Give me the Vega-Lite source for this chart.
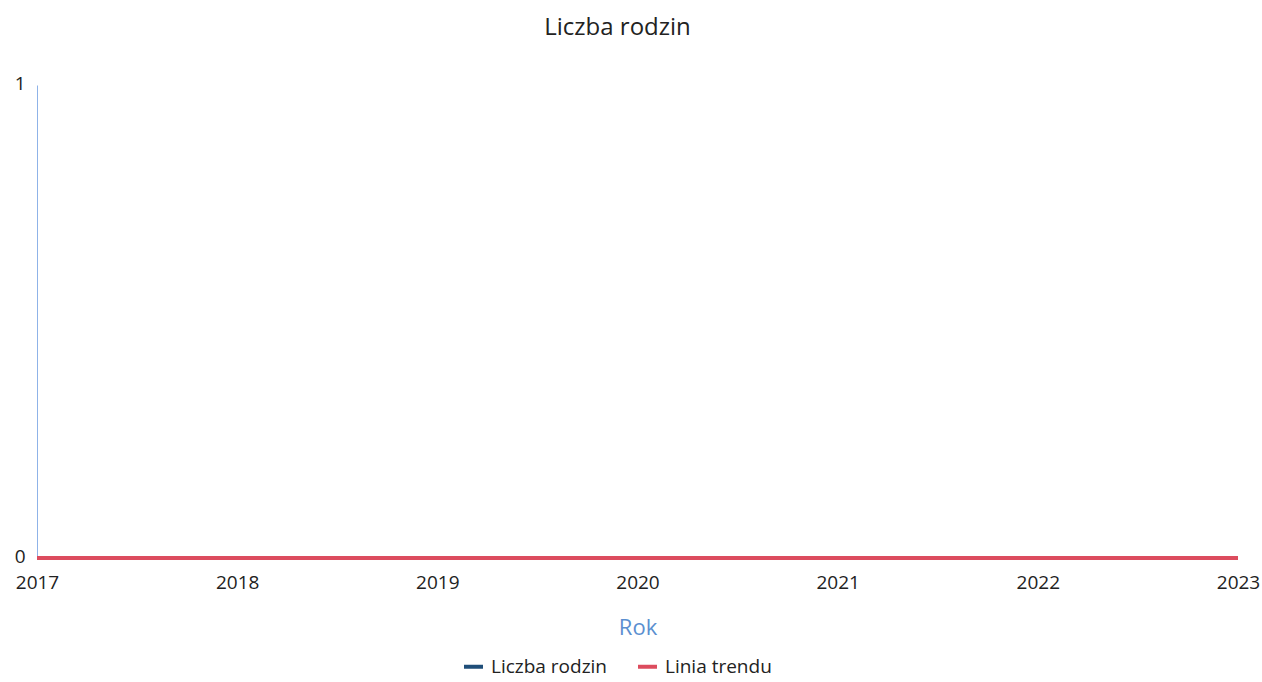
{
  "$schema": "https://vega.github.io/schema/vega-lite/v6.json",
  "autosize": {"type": "none"},
  "width": 1201,
  "height": 473,
  "padding": {"left": 37, "top": 85, "right": 24, "bottom": 124},
  "background": "white",
  "config": {"view": {"stroke": null}},
  "title": {
    "text": "Liczba rodzin",
    "fontSize": 24,
    "fontWeight": "normal",
    "font": "Open Sans",
    "color": "#222222",
    "anchor": "middle",
    "dx": -20,
    "offset": 34
  },
  "data": {
    "values": [
      {"rok": 2017, "seria": "Liczba rodzin", "wartosc": 0},
      {"rok": 2018, "seria": "Liczba rodzin", "wartosc": 0},
      {"rok": 2019, "seria": "Liczba rodzin", "wartosc": 0},
      {"rok": 2020, "seria": "Liczba rodzin", "wartosc": 0},
      {"rok": 2021, "seria": "Liczba rodzin", "wartosc": 0},
      {"rok": 2022, "seria": "Liczba rodzin", "wartosc": 0},
      {"rok": 2023, "seria": "Liczba rodzin", "wartosc": 0},
      {"rok": 2017, "seria": "Linia trendu", "wartosc": 0},
      {"rok": 2023, "seria": "Linia trendu", "wartosc": 0}
    ]
  },
  "mark": {"type": "line", "strokeWidth": 4},
  "encoding": {
    "x": {
      "field": "rok",
      "type": "quantitative",
      "scale": {"domain": [2017, 2023], "nice": false, "zero": false},
      "axis": {
        "title": "Rok",
        "values": [2017, 2018, 2019, 2020, 2021, 2022, 2023],
        "format": "d",
        "grid": false,
        "domain": false,
        "ticks": false,
        "labelPadding": 15,
        "labelFontSize": 19,
        "labelFont": "Open Sans",
        "labelColor": "#222222",
        "labelAlign": "center",
        "labelFlush": false,
        "labelBound": false,
        "labelOverlap": false,
        "titleFontSize": 22,
        "titleFont": "Open Sans",
        "titleFontWeight": "normal",
        "titleColor": "#5b8fd0",
        "titlePadding": 25
      }
    },
    "y": {
      "field": "wartosc",
      "type": "quantitative",
      "scale": {"domain": [0, 1], "nice": false},
      "axis": {
        "title": null,
        "values": [0, 1],
        "format": "d",
        "grid": false,
        "ticks": false,
        "domain": true,
        "domainColor": "#8fb3e8",
        "domainWidth": 1,
        "labelPadding": 12,
        "labelOffset": -2,
        "labelFontSize": 19,
        "labelFont": "Open Sans",
        "labelColor": "#222222",
        "labelFlush": false
      }
    },
    "color": {
      "field": "seria",
      "type": "nominal",
      "scale": {"domain": ["Liczba rodzin", "Linia trendu"], "range": ["#1f4e79", "#dc4c5e"]},
      "legend": {
        "title": null,
        "orient": "none",
        "legendX": 425,
        "legendY": 570,
        "direction": "horizontal",
        "symbolType": "stroke",
        "symbolStrokeWidth": 4,
        "symbolSize": 360,
        "labelFontSize": 19,
        "labelFont": "Open Sans",
        "labelColor": "#222222",
        "labelOffset": 6,
        "columnPadding": 22
      }
    },
    "order": {"field": "seria"}
  }
}
